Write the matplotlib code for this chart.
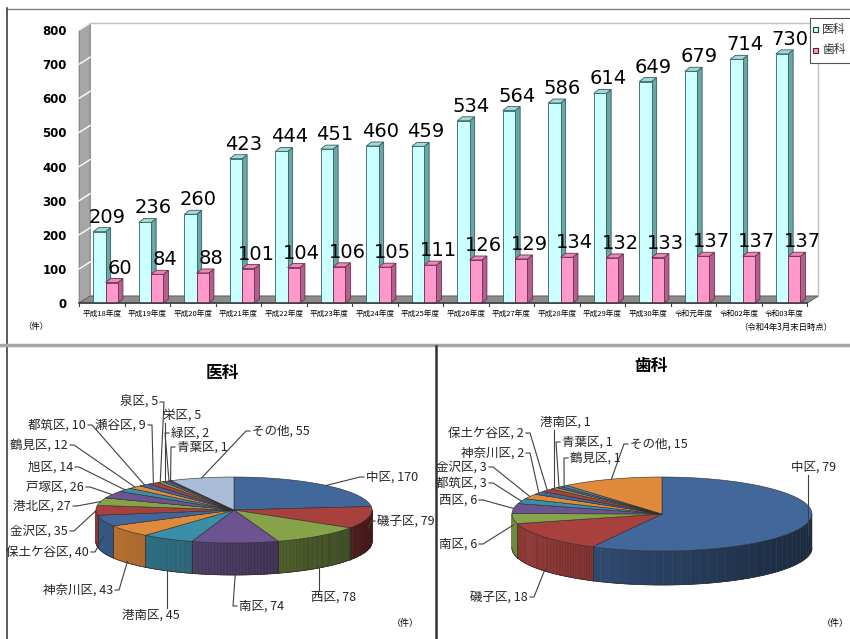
import numpy as np
import matplotlib.pyplot as plt
from matplotlib.patches import Polygon, Rectangle
from matplotlib.collections import PolyCollection

plt.rcParams['font.family'] = ['Noto Sans CJK JP', 'DejaVu Sans']

# 年度別の件数
years = ['平成18年度', '平成19年度', '平成20年度', '平成21年度', '平成22年度', '平成23年度',
         '平成24年度', '平成25年度', '平成26年度', '平成27年度', '平成28年度', '平成29年度',
         '平成30年度', '令和元年度', '令和02年度', '令和03年度']
ika = [209, 236, 260, 423, 444, 451, 460, 459, 534, 564, 586, 614, 649, 679, 714, 730]
shika = [60, 84, 88, 101, 104, 106, 105, 111, 126, 129, 134, 132, 133, 137, 137, 137]

# 区別の件数
ika_ku = ['中区', '磯子区', '西区', '南区', '港南区', '神奈川区', '保土ケ谷区', '金沢区', '港北区',
          '戸塚区', '旭区', '鶴見区', '都筑区', '瀬谷区', '泉区', '栄区', '緑区', '青葉区', 'その他']
ika_cnt = [170, 79, 78, 74, 45, 43, 40, 35, 27, 26, 14, 12, 10, 9, 5, 5, 2, 1, 55]

shika_ku = ['中区', '磯子区', '南区', '西区', '都筑区', '金沢区', '神奈川区', '保土ケ谷区',
            '港南区', '青葉区', '鶴見区', 'その他']
shika_cnt = [79, 18, 6, 6, 3, 3, 2, 2, 1, 1, 1, 15]

W, H = 850, 639
fig = plt.figure(figsize=(W / 100, H / 100), dpi=100)

# ---- 棒グラフ ----
px0, px1 = 79.25, 807.25
py0, py1 = 303, 30
ax = fig.add_axes([px0 / W, 1 - py0 / H, (px1 - px0) / W, (py0 - py1) / H])
ax.set_xlim(-0.5, 15.5)
ax.set_ylim(0, 800)
ax.set_facecolor('none')
for s in ax.spines.values():
    s.set_visible(False)

ux = (px1 - px0) / 16.0      # px per category
uy = (py0 - py1) / 800.0     # px per count
dxw, dyw = 11 / ux, 7 / uy   # wall depth
dxb, dyb = 5 / ux, 4 / uy    # bar depth

ax.add_patch(Polygon([(-0.5, 0), (-0.5 + dxw, dyw), (-0.5 + dxw, 800 + dyw), (-0.5, 800)],
                     fc='#A6A6A6', ec='#7F7F7F', lw=0.8, clip_on=False))
for v in range(100, 801, 100):
    ax.plot([-0.5, -0.5 + dxw], [v, v + dyw], color='white', lw=1, clip_on=False)
ax.add_patch(Polygon([(-0.5, 0), (15.5, 0), (15.5 + dxw, dyw), (-0.5 + dxw, dyw)],
                     fc='#8C8C8C', ec='#666666', lw=0.8, clip_on=False))
ax.plot([-0.5 + dxw, 15.5 + dxw, 15.5 + dxw], [800 + dyw, 800 + dyw, dyw],
        color='#C0C0C0', lw=1, clip_on=False)
ax.plot([-0.5, 15.5], [0, 0], color='#404040', lw=1.2, clip_on=False)
for b in np.arange(-0.5, 15.6, 1):
    ax.plot([b, b], [0, -3 / uy], color='#404040', lw=0.8, clip_on=False)


def bar3d(x0, w, h, front, side, top, edge):
    ax.add_patch(Polygon([(x0 + w, 0), (x0 + w + dxb, dyb), (x0 + w + dxb, h + dyb), (x0 + w, h)],
                         fc=side, ec=edge, lw=0.6, clip_on=False))
    ax.add_patch(Polygon([(x0, h), (x0 + dxb, h + dyb), (x0 + w + dxb, h + dyb), (x0 + w, h)],
                         fc=top, ec=edge, lw=0.6, clip_on=False))
    ax.add_patch(Rectangle((x0, 0), w, h, fc=front, ec=edge, lw=0.6, clip_on=False))
    ax.annotate(str(h), (x0 + w / 2, h), xytext=(8, 5), textcoords='offset pixels',
                ha='center', va='bottom', fontsize=14, family='DejaVu Sans', color='black')


bw = 0.27
for i in range(len(years)):
    bar3d(i - 0.19, bw, ika[i], '#CCFFFF', '#6AA6A6', '#A6D8D8', '#2F5F5F')
    bar3d(i - 0.19 + bw, bw, shika[i], '#FF99CC', '#B3608C', '#E887B8', '#6B2E4F')

ax.set_xticks(range(len(years)), years, fontsize=5.5)
ax.set_yticks(range(0, 801, 100))
ax.tick_params(axis='x', length=0, pad=5)
ax.tick_params(axis='y', length=0, pad=9, labelsize=8.5)
for lbl in ax.get_yticklabels():
    lbl.set_fontfamily('DejaVu Sans')
    lbl.set_fontweight('bold')

# ---- 円グラフ・枠線用 ----
ov = fig.add_axes([0, 0, 1, 1])
ov.set_xlim(0, W)
ov.set_ylim(H, 0)
ov.axis('off')

ov.plot([7, 850], [8.5, 8.5], color='#7F7F7F', lw=1)
ov.plot([7.5, 7.5], [8, 639], color='#404040', lw=1.2)
ov.plot([0, 850], [345, 345], color='#A6A6A6', lw=2.5)
ov.plot([436, 436], [346, 639], color='#333333', lw=1.8)

ov.add_patch(Rectangle((810, 18), 45, 45, fc='white', ec='#555555', lw=0.8))
ov.add_patch(Rectangle((813.5, 26.5), 5, 5, fc='#CCFFFF', ec='#204040', lw=0.8))
ov.add_patch(Rectangle((813.5, 47.5), 5, 5, fc='#FF99CC', ec='#5A2040', lw=0.8))
ov.text(822, 29, '医科', fontsize=8.5, va='center', color='#333333')
ov.text(822, 50, '歯科', fontsize=8.5, va='center', color='#333333')

ov.text(36, 327, '（件）', fontsize=6, ha='center', va='center')
ov.text(832, 327, '（令和4年3月末日時点）', fontsize=6, ha='right', va='center')

base6 = ['#42689B', '#A8403D', '#86A34A', '#6C5490', '#3A8EA8', '#E08A3C']

renderer = fig.canvas.get_renderer()


def pie3d(names, vals, cx, cy, rx, ry, depth, colors, label_pos):
    total = float(sum(vals))
    cum = np.concatenate([[0], np.cumsum(vals)]) / total
    rgb = [np.array(plt.matplotlib.colors.to_rgb(c)) for c in colors]

    # 側面
    quads, fcs = [], []
    for i in range(len(vals)):
        t = np.radians(np.linspace(90 - 360 * cum[i], 90 - 360 * cum[i + 1], 60))
        for a, b in zip(t[:-1], t[1:]):
            m = (a + b) / 2
            if np.sin(m) >= 0:
                continue
            xa, ya = cx + rx * np.cos(a), cy - ry * np.sin(a)
            xb, yb = cx + rx * np.cos(b), cy - ry * np.sin(b)
            quads.append([(xa, ya), (xb, yb), (xb, yb + depth), (xa, ya + depth)])
            f = 0.62 - 0.22 * np.cos(m)
            fcs.append(np.clip(rgb[i] * f, 0, 1))
    ov.add_collection(PolyCollection(quads, facecolors=fcs, edgecolors=fcs, linewidths=0.4))
    for c in cum:
        a = np.radians(90 - 360 * c)
        if np.sin(a) < 0:
            x, y = cx + rx * np.cos(a), cy - ry * np.sin(a)
            ov.plot([x, x], [y, y + depth], color='#2A2A2A', lw=0.5)
    tb = np.radians(np.linspace(180, 360, 120))
    ov.plot(cx + rx * np.cos(tb), cy - ry * np.sin(tb) + depth, color='#2A2A2A', lw=0.5)

    # 上面
    for i in range(len(vals)):
        t = np.radians(np.linspace(90 - 360 * cum[i], 90 - 360 * cum[i + 1], 80))
        pts = [(cx, cy)] + list(zip(cx + rx * np.cos(t), cy - ry * np.sin(t)))
        ov.add_patch(Polygon(pts, closed=True, fc=colors[i], ec='#2A2A2A', lw=0.4))

    # ラベルと引き出し線
    inv = ov.transData.inverted()
    for i, (n, v) in enumerate(zip(names, vals)):
        lx, ly, ha = label_pos[n]
        txt = ov.text(lx, ly, f'{n}, {v}', fontsize=9, ha=ha, va='center', color='#262626')
        bb = txt.get_window_extent(renderer)
        (x0, y1), (x1, y0) = inv.transform([[bb.x0, bb.y0], [bb.x1, bb.y1]])
        m = np.radians(90 - 360 * (cum[i] + cum[i + 1]) / 2)
        sx, sy = cx + rx * np.cos(m), cy - ry * np.sin(m)
        sy += depth * min(1.0, max(0.0, -1.5 * np.sin(m)))
        if x0 <= sx <= x1:
            ey = y0 - 1 if sy < y0 else y1 + 1
            ov.plot([sx, sx], [ey, sy], color='#404040', lw=0.8)
        else:
            ex = x1 + 2 if sx > x1 else x0 - 2
            st = ex + (4 if sx > x1 else -4)
            yc = (y0 + y1) / 2
            ov.plot([ex, st, sx], [yc, yc, sy], color='#404040', lw=0.8)


ika_cols = [base6[i % 6] for i in range(len(ika_cnt))]
ika_cols[-1] = '#A9BDD8'
ika_lbl = {
    '中区': (366, 477, 'left'), '磯子区': (377, 521, 'left'), '西区': (311, 597, 'left'),
    '南区': (239, 606, 'left'), '港南区': (122, 615, 'left'), '神奈川区': (113, 590, 'right'),
    '保土ケ谷区': (89, 552, 'right'), '金沢区': (68, 531, 'right'), '港北区': (71, 506, 'right'),
    '戸塚区': (84, 487, 'right'), '旭区': (73, 467, 'right'), '鶴見区': (68, 445, 'right'),
    '都筑区': (86, 425, 'right'), '瀬谷区': (146, 425, 'right'), '泉区': (158, 402, 'right'),
    '栄区': (163, 415, 'left'), '緑区': (171, 433, 'left'), '青葉区': (177, 447, 'left'),
    'その他': (252, 431, 'left'),
}
pie3d(ika_ku, ika_cnt, 234, 510, 138, 33, 32, ika_cols, ika_lbl)

shika_cols = [base6[i % 6] for i in range(len(shika_cnt))]
shika_lbl = {
    '中区': (791, 467, 'left'), 'その他': (630, 444, 'left'), '鶴見区': (570, 458, 'left'),
    '青葉区': (562, 442, 'left'), '港南区': (540, 422, 'left'), '保土ケ谷区': (524, 433, 'right'),
    '神奈川区': (524, 453, 'right'), '金沢区': (487, 467, 'right'), '都筑区': (487, 483, 'right'),
    '西区': (477, 500, 'right'), '南区': (477, 544, 'right'), '磯子区': (528, 597, 'right'),
}
pie3d(shika_ku, shika_cnt, 662, 514, 150, 37, 34, shika_cols, shika_lbl)

ov.text(222, 373, '医科', fontsize=12, fontweight='bold', ha='center', va='center')
ov.text(651, 366, '歯科', fontsize=12, fontweight='bold', ha='center', va='center')
ov.text(405, 623, '（件）', fontsize=6.5, ha='center', va='center')
ov.text(835, 623, '（件）', fontsize=6.5, ha='center', va='center')

fig.savefig('out.png', dpi=100)
